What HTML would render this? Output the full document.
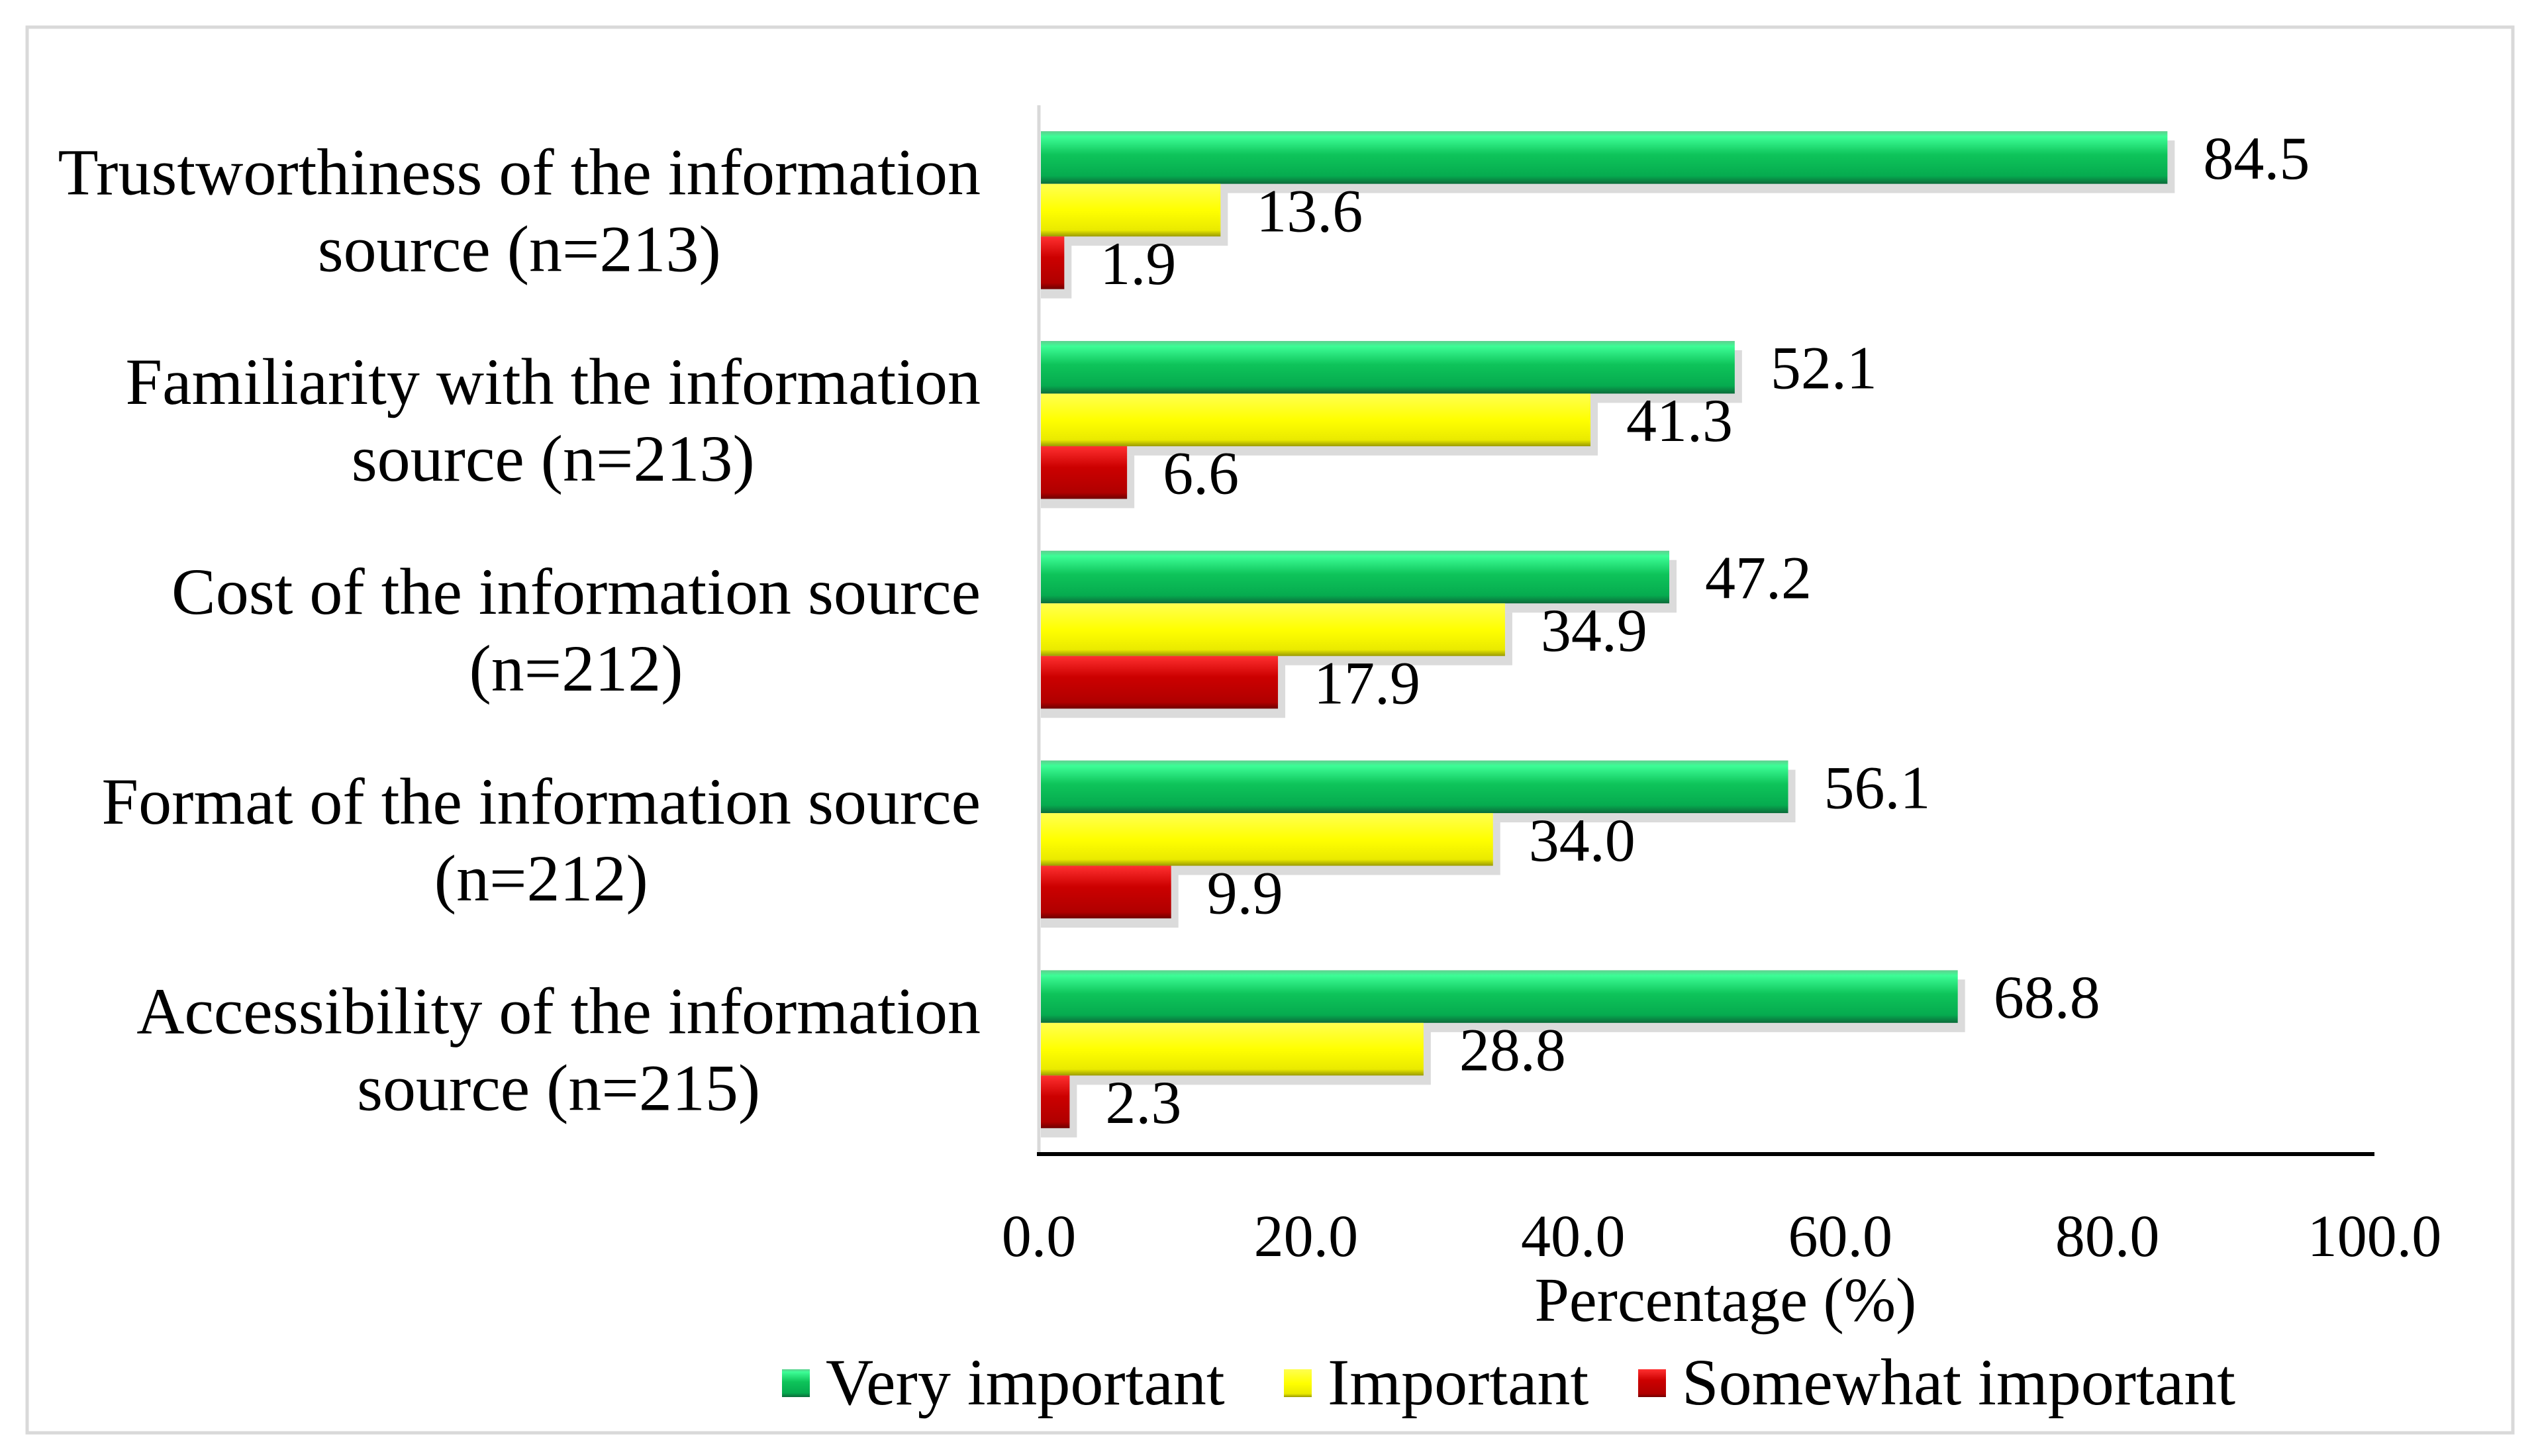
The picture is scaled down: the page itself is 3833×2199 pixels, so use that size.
<!DOCTYPE html>
<html><head><meta charset="utf-8"><style>
html,body{margin:0;padding:0;background:#fff;}
svg{display:block;font-family:"Liberation Serif",serif;}
</style></head><body>
<svg id="chart" width="3833" height="2199" viewBox="0 0 3833 2199" xmlns="http://www.w3.org/2000/svg">
<defs>
<linearGradient id="gGreen" x1="0" y1="0" x2="0" y2="1">
<stop offset="0" stop-color="#5fcf8f"/><stop offset="0.1" stop-color="#3dfd96"/><stop offset="0.45" stop-color="#0ec45a"/><stop offset="0.85" stop-color="#06ab4f"/><stop offset="1" stop-color="#0b6b3a"/></linearGradient>
<linearGradient id="gYellow" x1="0" y1="0" x2="0" y2="1">
<stop offset="0" stop-color="#ffff50"/><stop offset="0.5" stop-color="#ffff00"/><stop offset="0.88" stop-color="#eaea00"/><stop offset="1" stop-color="#9a9a00"/></linearGradient>
<linearGradient id="gRed" x1="0" y1="0" x2="0" y2="1">
<stop offset="0" stop-color="#ff3030"/><stop offset="0.4" stop-color="#cc0000"/><stop offset="0.88" stop-color="#b00000"/><stop offset="1" stop-color="#700000"/></linearGradient>
</defs>
<rect x="41" y="41" width="3754" height="2123" fill="#fff" stroke="#d9d9d9" stroke-width="5"/>
<g id="plot"></g>
</svg>
<script>
const categories = [
  ["Trustworthiness of the information","source (n=213)"],
  ["Familiarity with the information","source (n=213)"],
  ["Cost of the information source","(n=212)"],
  ["Format of the information source","(n=212)"],
  ["Accessibility of the information","source (n=215)"]
];
const seriesNames = ["Very important","Important","Somewhat important"];
const veryImportant = [84.5, 52.1, 47.2, 56.1, 68.8];
const important = [13.6, 41.3, 34.9, 34.0, 28.8];
const somewhatImportant = [1.9, 6.6, 17.9, 9.9, 2.3];
const tickValues = [0, 20, 40, 60, 80, 100];
const tickLabels = ["0.0","20.0","40.0","60.0","80.0","100.0"];

const NS = "http://www.w3.org/2000/svg";
const g = document.getElementById('plot');
const x0 = 1569, x1 = 3586, yTop = 159, yBot = 1743;
const xScale = v => x0 + (v / 100) * (x1 - x0);
const band = (yBot - yTop) / categories.length;
const barH = 79.5, gapTop = (band - 3 * barH) / 2;
const series = [veryImportant, important, somewhatImportant];
const fills = ["url(#gGreen)", "url(#gYellow)", "url(#gRed)"];
const keys = ["very-important", "important", "somewhat-important"];
function mk(tag, attrs, parent) {
  const e = document.createElementNS(NS, tag);
  for (const k in attrs) e.setAttribute(k, attrs[k]);
  (parent || g).appendChild(e);
  return e;
}
const ya = mk('line', {x1: x0, y1: yTop, x2: x0, y2: yBot, stroke: '#d9d9d9', 'stroke-width': 5});



const labelRight = 1481;
categories.forEach((cat, i) => {
  const bt = yTop + i * band;
  const cy = bt + band / 2;
  const lab = mk('text', {'text-anchor': 'middle', 'font-size': 100, fill: '#000'});
  
  
  const spans = cat.map((line, j) => {
    const ts = mk('tspan', {x: 0, y: cy - 58 + j * 116 + 34}, lab);
    ts.textContent = line;
    return ts;
  });
  let maxW = 0;
  spans.forEach(s => { maxW = Math.max(maxW, s.getComputedTextLength()); });
  spans.forEach(s => s.setAttribute('x', labelRight - maxW / 2));
  series.forEach((arr, s) => {
    const v = arr[i];
    const y = bt + gapTop + s * barH;
    const w = xScale(v) - x0;
    const sh = mk('rect', {x: x0 + 3, y: y + 14, width: w + 8, height: barH, fill: '#000', opacity: 0.14});
    
    
    const r = mk('rect', {x: x0 + 3, y: y, width: Math.max(w - 3, 1), height: barH, fill: fills[s]});
    
    
    const t = mk('text', {x: xScale(v) + 54, y: y + barH / 2 + 32, 'font-size': 92, fill: '#000'});
    
    
    t.textContent = v.toFixed(1);
  });
});
const xa = mk('line', {x1: x0 - 3, y1: yBot, x2: x1, y2: yBot, stroke: '#000', 'stroke-width': 6});


tickValues.forEach((v, i) => {
  const t = mk('text', {x: xScale(v), y: 1897, 'text-anchor': 'middle', 'font-size': 90, fill: '#000'});
  
  
  t.textContent = tickLabels[i];
});
const xt = mk('text', {x: 2606, y: 1995, 'text-anchor': 'middle', 'font-size': 94, fill: '#000'});


xt.textContent = 'Percentage (%)';
const legMarkX = [1181, 1939, 2474];
seriesNames.forEach((n, s) => {
  const m = mk('rect', {x: legMarkX[s], y: 2068, width: 42, height: 42, fill: fills[s]});
  
  
  const t = mk('text', {x: legMarkX[s] + 66, y: 2121, 'font-size': 100, fill: '#000'});
  
  
  t.textContent = n;
});
</script>
</body></html>
